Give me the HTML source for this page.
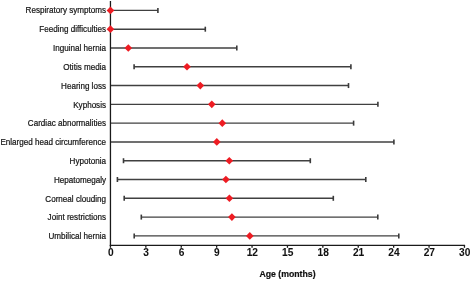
<!DOCTYPE html>
<html><head><meta charset="utf-8"><style>
html,body{margin:0;padding:0;background:#fff;}
svg{display:block;will-change:transform;}
.lbl{font-family:"Liberation Sans",sans-serif;font-size:8.7px;fill:#151515;stroke:#151515;stroke-width:0.22;text-anchor:end;}
.tk{font-family:"Liberation Sans",sans-serif;font-size:10.4px;font-weight:bold;fill:#111;stroke:#111;stroke-width:0.05;text-anchor:middle;}
.ttl{font-family:"Liberation Sans",sans-serif;font-size:9px;font-weight:bold;fill:#111;stroke:#111;stroke-width:0.2;}
.bar{stroke:#404040;stroke-width:1.4;}
.cap{stroke:#3a3a3a;stroke-width:1.6;}
.ax{stroke:#1a1a1a;stroke-width:1.3;}
.mk{fill:#ee1c23;}
</style></head><body>
<svg width="472" height="281" viewBox="0 0 472 281">
<rect width="472" height="281" fill="#fff"/>
<line x1="110.45" y1="10.40" x2="157.9" y2="10.40" class="bar"/>
<line x1="157.9" y1="7.90" x2="157.9" y2="12.90" class="cap"/>
<g transform="translate(106,13.20) scale(0.93,1)"><text x="0" y="0" class="lbl">Respiratory symptoms</text></g>
<line x1="110.45" y1="29.19" x2="205.3" y2="29.19" class="bar"/>
<line x1="205.3" y1="26.69" x2="205.3" y2="31.69" class="cap"/>
<g transform="translate(106,32.39) scale(0.93,1)"><text x="0" y="0" class="lbl">Feeding difficulties</text></g>
<line x1="110.45" y1="47.98" x2="236.8" y2="47.98" class="bar"/>
<line x1="236.8" y1="45.48" x2="236.8" y2="50.48" class="cap"/>
<g transform="translate(106,51.18) scale(0.93,1)"><text x="0" y="0" class="lbl">Inguinal hernia</text></g>
<line x1="134.1" y1="66.77" x2="350.9" y2="66.77" class="bar"/>
<line x1="350.9" y1="64.27" x2="350.9" y2="69.27" class="cap"/>
<line x1="134.1" y1="64.27" x2="134.1" y2="69.27" class="cap"/>
<g transform="translate(106,69.97) scale(0.93,1)"><text x="0" y="0" class="lbl">Otitis media</text></g>
<line x1="110.45" y1="85.56" x2="348.5" y2="85.56" class="bar"/>
<line x1="348.5" y1="83.06" x2="348.5" y2="88.06" class="cap"/>
<g transform="translate(106,88.76) scale(0.93,1)"><text x="0" y="0" class="lbl">Hearing loss</text></g>
<line x1="110.45" y1="104.35" x2="377.9" y2="104.35" class="bar"/>
<line x1="377.9" y1="101.85" x2="377.9" y2="106.85" class="cap"/>
<g transform="translate(106,107.55) scale(0.93,1)"><text x="0" y="0" class="lbl">Kyphosis</text></g>
<line x1="110.45" y1="123.14" x2="353.6" y2="123.14" class="bar"/>
<line x1="353.6" y1="120.64" x2="353.6" y2="125.64" class="cap"/>
<g transform="translate(106,126.34) scale(0.93,1)"><text x="0" y="0" class="lbl">Cardiac abnormalities</text></g>
<line x1="110.45" y1="141.93" x2="393.9" y2="141.93" class="bar"/>
<line x1="393.9" y1="139.43" x2="393.9" y2="144.43" class="cap"/>
<g transform="translate(106,145.13) scale(0.93,1)"><text x="0" y="0" class="lbl">Enlarged head circumference</text></g>
<line x1="123.5" y1="160.72" x2="310.3" y2="160.72" class="bar"/>
<line x1="310.3" y1="158.22" x2="310.3" y2="163.22" class="cap"/>
<line x1="123.5" y1="158.22" x2="123.5" y2="163.22" class="cap"/>
<g transform="translate(106,163.92) scale(0.93,1)"><text x="0" y="0" class="lbl">Hypotonia</text></g>
<line x1="117.4" y1="179.51" x2="365.8" y2="179.51" class="bar"/>
<line x1="365.8" y1="177.01" x2="365.8" y2="182.01" class="cap"/>
<line x1="117.4" y1="177.01" x2="117.4" y2="182.01" class="cap"/>
<g transform="translate(106,182.71) scale(0.93,1)"><text x="0" y="0" class="lbl">Hepatomegaly</text></g>
<line x1="124.2" y1="198.30" x2="333.3" y2="198.30" class="bar"/>
<line x1="333.3" y1="195.80" x2="333.3" y2="200.80" class="cap"/>
<line x1="124.2" y1="195.80" x2="124.2" y2="200.80" class="cap"/>
<g transform="translate(106,201.50) scale(0.93,1)"><text x="0" y="0" class="lbl">Corneal clouding</text></g>
<line x1="141.3" y1="217.09" x2="377.8" y2="217.09" class="bar"/>
<line x1="377.8" y1="214.59" x2="377.8" y2="219.59" class="cap"/>
<line x1="141.3" y1="214.59" x2="141.3" y2="219.59" class="cap"/>
<g transform="translate(106,220.29) scale(0.93,1)"><text x="0" y="0" class="lbl">Joint restrictions</text></g>
<line x1="134.2" y1="235.88" x2="398.8" y2="235.88" class="bar"/>
<line x1="398.8" y1="233.38" x2="398.8" y2="238.38" class="cap"/>
<line x1="134.2" y1="233.38" x2="134.2" y2="238.38" class="cap"/>
<g transform="translate(106,239.08) scale(0.93,1)"><text x="0" y="0" class="lbl">Umbilical hernia</text></g>
<line x1="110.45" y1="1" x2="110.45" y2="246" class="ax"/>
<line x1="109.85000000000001" y1="245.45" x2="465.05" y2="245.45" class="ax"/>
<line x1="110.45" y1="245" x2="110.45" y2="247.8" class="ax"/>
<g transform="translate(110.75,256) scale(0.98,1)"><text x="0" y="0" class="tk">0</text></g>
<line x1="145.85" y1="245" x2="145.85" y2="247.8" class="ax"/>
<g transform="translate(146.15,256) scale(0.98,1)"><text x="0" y="0" class="tk">3</text></g>
<line x1="181.25" y1="245" x2="181.25" y2="247.8" class="ax"/>
<g transform="translate(181.55,256) scale(0.98,1)"><text x="0" y="0" class="tk">6</text></g>
<line x1="216.65" y1="245" x2="216.65" y2="247.8" class="ax"/>
<g transform="translate(216.95,256) scale(0.98,1)"><text x="0" y="0" class="tk">9</text></g>
<line x1="252.05" y1="245" x2="252.05" y2="247.8" class="ax"/>
<g transform="translate(252.35,256) scale(0.98,1)"><text x="0" y="0" class="tk">12</text></g>
<line x1="287.45" y1="245" x2="287.45" y2="247.8" class="ax"/>
<g transform="translate(287.75,256) scale(0.98,1)"><text x="0" y="0" class="tk">15</text></g>
<line x1="322.85" y1="245" x2="322.85" y2="247.8" class="ax"/>
<g transform="translate(323.15,256) scale(0.98,1)"><text x="0" y="0" class="tk">18</text></g>
<line x1="358.25" y1="245" x2="358.25" y2="247.8" class="ax"/>
<g transform="translate(358.55,256) scale(0.98,1)"><text x="0" y="0" class="tk">21</text></g>
<line x1="393.65" y1="245" x2="393.65" y2="247.8" class="ax"/>
<g transform="translate(393.95,256) scale(0.98,1)"><text x="0" y="0" class="tk">24</text></g>
<line x1="429.05" y1="245" x2="429.05" y2="247.8" class="ax"/>
<g transform="translate(429.35,256) scale(0.98,1)"><text x="0" y="0" class="tk">27</text></g>
<line x1="464.45" y1="245" x2="464.45" y2="247.8" class="ax"/>
<g transform="translate(464.75,256) scale(0.98,1)"><text x="0" y="0" class="tk">30</text></g>
<rect x="107.75" y="7.70" width="5.4" height="5.4" transform="rotate(45 110.45 10.40)" class="mk"/>
<rect x="107.75" y="26.49" width="5.4" height="5.4" transform="rotate(45 110.45 29.19)" class="mk"/>
<rect x="125.60" y="45.28" width="5.4" height="5.4" transform="rotate(45 128.30 47.98)" class="mk"/>
<rect x="184.30" y="64.07" width="5.4" height="5.4" transform="rotate(45 187.00 66.77)" class="mk"/>
<rect x="197.60" y="82.86" width="5.4" height="5.4" transform="rotate(45 200.30 85.56)" class="mk"/>
<rect x="209.10" y="101.65" width="5.4" height="5.4" transform="rotate(45 211.80 104.35)" class="mk"/>
<rect x="219.60" y="120.44" width="5.4" height="5.4" transform="rotate(45 222.30 123.14)" class="mk"/>
<rect x="214.10" y="139.23" width="5.4" height="5.4" transform="rotate(45 216.80 141.93)" class="mk"/>
<rect x="226.60" y="158.02" width="5.4" height="5.4" transform="rotate(45 229.30 160.72)" class="mk"/>
<rect x="223.20" y="176.81" width="5.4" height="5.4" transform="rotate(45 225.90 179.51)" class="mk"/>
<rect x="226.70" y="195.60" width="5.4" height="5.4" transform="rotate(45 229.40 198.30)" class="mk"/>
<rect x="229.20" y="214.39" width="5.4" height="5.4" transform="rotate(45 231.90 217.09)" class="mk"/>
<rect x="247.10" y="233.18" width="5.4" height="5.4" transform="rotate(45 249.80 235.88)" class="mk"/>
<g transform="translate(259.4,277.2) scale(0.97,1)"><text x="0" y="0" class="ttl">Age (months)</text></g>
</svg>
</body></html>
